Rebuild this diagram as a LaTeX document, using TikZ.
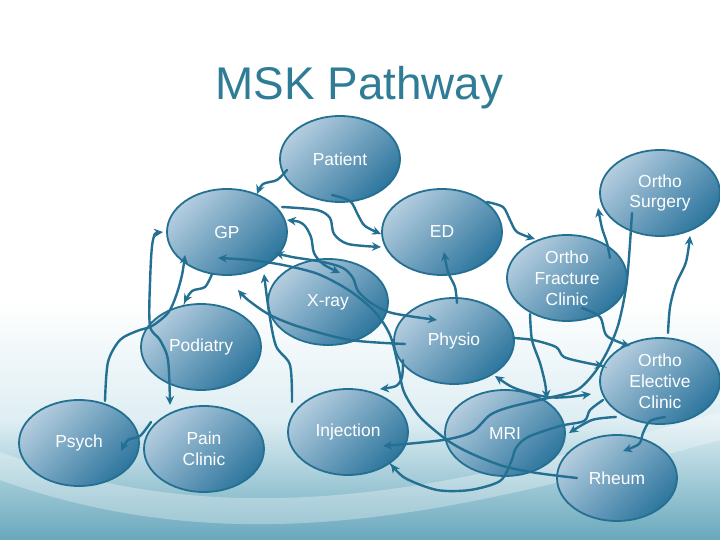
\documentclass[tikz,border=0pt]{standalone}
\usepackage{fontspec}
\setmainfont{Liberation Sans}
\usepackage{tikz}
\usetikzlibrary{
	arrows.meta,
	shapes.geometric,
	calc
}

\definecolor{mskline}{RGB}{36,112,146}
\definecolor{msktitle}{RGB}{46,124,150}
\definecolor{msklight}{RGB}{180,205,223}
\definecolor{mskdark}{RGB}{46,118,158}
\definecolor{bgpale}{RGB}{222,238,243}
\definecolor{bgteal}{RGB}{104,168,188}

\begin{document}
\begin{tikzpicture}[
	x=1bp, y=-1bp,
	stage/.style={ellipse, draw=mskline, line width=1.8bp,
		top color=msklight, bottom color=mskdark, shading angle=45,
		minimum width=120bp, minimum height=86bp, inner sep=0pt,
		text=white, align=center, font=\fontsize{17.5}{21}\selectfont},
	link/.style={draw=mskline, line width=2.4bp, line cap=round,
		-{Stealth[length=9bp,width=8.5bp]}},
	both/.style={link, {Stealth[length=9bp,width=8.5bp]}-{Stealth[length=9bp,width=8.5bp]}}
	]
	\useasboundingbox (0,0) rectangle (720,540);
	\fill[white] (0,0) rectangle (720,300);
	\shade[top color=white, bottom color=bgpale] (0,300) rectangle (720,420);
	\shade[top color=bgpale, bottom color=bgteal] (0,420) rectangle (720,540);
	\fill[white, opacity=0.3] (0,452) .. controls (250,545) and (480,480) .. (720,412)
		-- (720,440) .. controls (480,505) and (250,570) .. (0,480) -- cycle;

	\node[font=\fontsize{46}{50}\selectfont, text=msktitle, anchor=base] (title) at (359.5,100) {MSK Pathway};

	\node[stage] (pat)    at (340,159) {Patient};
	\node[stage] (gp)     at (227,232) {GP};
	\node[stage] (ed)     at (442,232) {ED};
	\node[stage] (osurg)  at (660,193) {Ortho\\Surgery};
	\node[stage] (ofc)    at (567,278) {Ortho\\Fracture\\Clinic};
	\node[stage] (xray)   at (328,302) {X-ray};
	\node[stage] (pod)    at (201,347) {Podiatry};
	\node[stage] (phys)   at (454,341) {Physio};
	\node[stage] (oec)    at (660,381) {Ortho\\Elective\\Clinic};
	\node[stage] (psych)  at (79,443)  {Psych};
	\node[stage] (pain)   at (204,449) {Pain\\Clinic};
	\node[stage] (inj)    at (348,432) {Injection};
	\node[stage] (mri)    at (505,433) {MRI};
	\node[stage] (rheum)  at (617,478) {Rheum};

	\draw[link] plot[smooth] coordinates {($(pat)+(-53,11)$) (277,180) (263,184) ($(gp)+(30,-38)$)};
	\draw[link] plot[smooth] coordinates {($(pat)+(-8,36)$) (350,201) (358,215) (365,226) ($(ed)+(-61,2)$)};
	\draw[link] plot[smooth] coordinates {($(gp)+(55,-25)$) (317,210) (330,218) (334,234) (348,244) ($(ed)+(-61,15)$)};
	\draw[both] plot[smooth] coordinates {($(gp)+(60,-12)$) (303,224) (311,237) (314,253) (323,264) ($(xray)+(12,-29)$)};
	\draw[both] plot[smooth] coordinates {($(gp)+(48,21)$) (292,257) (323,262) (343,268) (353,278) (358,291) (371,303) (392,313) ($(phys)+(-17,-21)$)};
	\draw[link] plot[smooth] coordinates {($(rheum)+(-40,0)$) (537,473) (503,466) (470,453) (447,440) (420,417) (404,392) (398,365) (390,335) (375,312) (350,291) (318,274) (283,265) (250,260) ($(gp)+(-9,26)$)};
	\draw[link] plot[smooth] coordinates {($(phys)+(-49,3)$) (350,340) (300,327) (270,315) (248,300) ($(gp)+(11,58)$)};
	\draw[link] plot[smooth] coordinates {($(inj)+(-56,-30)$) (290,365) (276,346) (269,312) ($(gp)+(37,42)$)};
	\draw[link] plot[smooth] coordinates {($(gp)+(-15,42)$) (205,287) (192,291) ($(pod)+(-17,-44)$)};
	\draw[link] plot[smooth] coordinates {($(psych)+(26,-42)$) (108,362) (120,340) (137,331) (152,326) (168,313) (176,296) (182,275) ($(gp)+(-42,23)$)};
	\draw[both] plot[smooth] coordinates {($(gp)+(-64,0)$) (153,240) (150,283) (150,326) (160,340) (168,360) ($(pain)+(-34,-44)$)};
	\draw[link] plot[smooth] coordinates {($(pain)+(-53,-27)$) (140,436) (128,440) ($(psych)+(42,8)$)};
	\draw[link] plot[smooth] coordinates {($(ed)+(45,-30)$) (503,207) (510,220) (517,232) ($(ofc)+(-32,-39)$)};
	\draw[link] plot[smooth] coordinates {($(phys)+(3,-38)$) (455,287) (448,272) ($(ed)+(2,20)$)};
	\draw[link] plot[smooth] coordinates {($(ofc)+(43,-20)$) (607,243) (602,228) ($(osurg)+(-62,15)$)};
	\draw[link] plot[smooth] coordinates {($(oec)+(8,-48)$) (670,307) (676,284) (686,262) ($(osurg)+(30,43)$)};
	\draw[link] plot[smooth] coordinates {($(osurg)+(-28,20)$) (627,280) (619,322) (609,348) (595,372) (577,390) (548,398) (510,407) (490,415) (472,432) (443,440) ($(inj)+(35,14)$)};
	\draw[link] plot[smooth] coordinates {($(ofc)+(-37,36)$) (532,340) (540,363) (545,383) ($(mri)+(42,-34)$)};
	\draw[link] plot[smooth] coordinates {($(ofc)+(15,30)$) (600,317) (607,336) ($(oec)+(-30,-35)$)};
	\draw[link] plot[smooth] coordinates {($(phys)+(59,-3)$) (533,340) (556,347) (564,357) (587,363) ($(oec)+(-56,-15)$)};
	\draw[both] plot[smooth] coordinates {($(phys)+(41,35)$) (517,389) (547,397) (568,397) ($(oec)+(-69,13)$)};
	\draw[link] plot[smooth] coordinates {($(oec)+(-44,36)$) (592,420) ($(mri)+(64,0)$)};
	\draw[link] plot[smooth] coordinates {($(oec)+(-57,19)$) (590,410) (584,421) (560,426) (528,437) (516,448) (511,462) (500,481) (470,490) (437,490) (405,478) ($(inj)+(43,32)$)};
	\draw[link] plot[smooth] coordinates {($(oec)+(5,36)$) (650,421) (643,433) (639,444) ($(rheum)+(6,-27)$)};
	\draw[link] plot[smooth] coordinates {($(phys)+(-51,19)$) (402,377) (396,386) ($(inj)+(32,-43)$)};
\end{tikzpicture}
\end{document}
